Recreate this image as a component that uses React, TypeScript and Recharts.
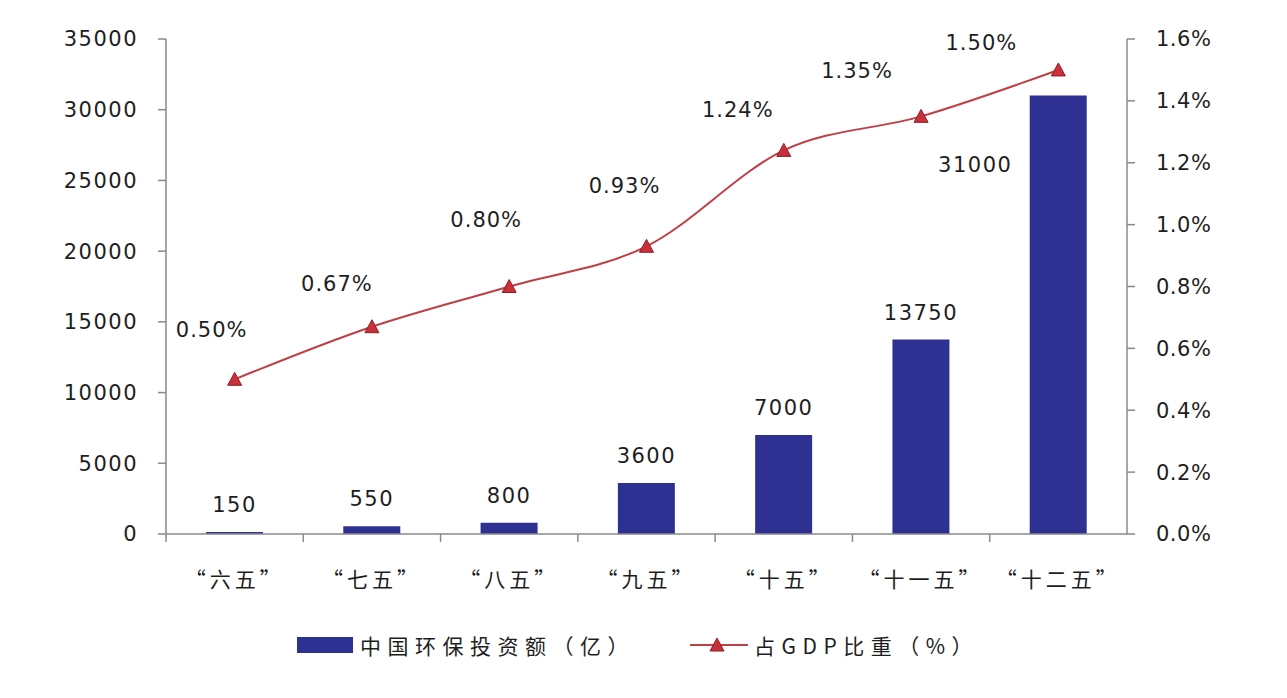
import React from "react";
import {
  ComposedChart,
  Bar,
  Line,
  XAxis,
  YAxis,
  LabelList,
} from "recharts";

// 五年计划期间
const periods = ["“六五”", "“七五”", "“八五”", "“九五”", "“十五”", "“十一五”", "“十二五”"];
// 中国环保投资额（亿）
const investment = [150, 550, 800, 3600, 7000, 13750, 31000];
// 占GDP比重（%）
const gdpShare = [0.5, 0.67, 0.8, 0.93, 1.24, 1.35, 1.5];

const leftTicks = [0, 5000, 10000, 15000, 20000, 25000, 30000, 35000];
const rightTicks = [0, 0.2, 0.4, 0.6, 0.8, 1.0, 1.2, 1.4, 1.6];

const data = periods.map((name, i) => ({
  name,
  investment: investment[i],
  share: gdpShare[i],
}));

// chart geometry
const W = 1271;
const H = 682;
const MARGIN = { top: 31, right: 52, bottom: 106, left: 0 };
const LEFT_AXIS_W = 158;
const RIGHT_AXIS_W = 100;
const PLOT_W = W - MARGIN.left - MARGIN.right - LEFT_AXIS_W - RIGHT_AXIS_W;
const BAND = PLOT_W / periods.length;

const BAR_COLOR = "#2E3192";
const LINE_COLOR = "#BE4046";
const AXIS_COLOR = "#8a8a8a";
const TEXT_COLOR = "#1e1e1e";
const FONT = "'DejaVu Sans', Verdana, sans-serif";
const CJK = "'Noto Sans CJK SC', sans-serif";

// hand-placed percent labels, offset from each point (like dragged Excel labels)
const shareLabelOffsets = [
  [-23, -49],
  [-35, -43],
  [-23, -67],
  [-22, -60],
  [-46, -40],
  [-64, -45],
  [-77, -27],
];

const Triangle = (props: any) => {
  const { cx, cy, index } = props;
  if (cx == null || cy == null) return null;
  return (
    <path
      key={`tri-${index}`}
      d={`M${cx},${cy - 7} L${cx + 7},${cy + 6} L${cx - 7},${cy + 6} Z`}
      fill="#C8303A"
      stroke="#8E1F25"
      strokeWidth={1}
    />
  );
};

const CategoryTick = (props: any) => {
  const { x, y, payload } = props;
  const bx = x - BAND / 2;
  return (
    <g>
      <line x1={bx} y1={y} x2={bx} y2={y + 8} stroke={AXIS_COLOR} strokeWidth={1.5} />
      <text
        x={x}
        y={y + 44}
        textAnchor="middle"
        dominantBaseline="central"
        fill={TEXT_COLOR}
        fontSize={21}
        fontFamily={CJK}
        letterSpacing={4}
      >
        {payload.value}
      </text>
    </g>
  );
};

const BarValueLabel = (props: any) => {
  const { x, y, width, value, index } = props;
  const last = index === investment.length - 1;
  // the last label sits beside its bar, as in the source
  const lx = last ? x + width / 2 - 83 : x + width / 2;
  const ly = last ? 157 : y - 27;
  return (
    <text
      x={lx}
      y={ly}
      textAnchor="middle"
      dominantBaseline="central"
      fill={TEXT_COLOR}
      fontSize={21}
      fontFamily={FONT}
      letterSpacing={1.5}
    >
      {value}
    </text>
  );
};

const ShareLabel = (props: any) => {
  const { x, y, value, index } = props;
  const [dx, dy] = shareLabelOffsets[index] || [0, -30];
  return (
    <text
      x={x + dx}
      y={y + dy}
      textAnchor="middle"
      dominantBaseline="central"
      fill={TEXT_COLOR}
      fontSize={21}
      fontFamily={FONT}
      letterSpacing={1}
    >
      {`${Number(value).toFixed(2)}%`}
    </text>
  );
};

export default function App() {
  return (
    <div style={{ position: "relative", width: W, height: H, background: "#fff" }}>
      <ComposedChart width={W} height={H} data={data} margin={MARGIN}>
        <XAxis
          dataKey="name"
          xAxisId="x"
          height={50}
          tickSize={0}
          tickMargin={0}
          interval={0}
          stroke={AXIS_COLOR}
          strokeWidth={1.5}
          tick={<CategoryTick />}
        />
        <YAxis
          yAxisId="left"
          orientation="left"
          width={LEFT_AXIS_W}
          domain={[0, 35000]}
          ticks={leftTicks}
          interval={0}
          tickSize={8}
          tickMargin={20}
          stroke={AXIS_COLOR}
          strokeWidth={1.5}
          tick={{ fill: TEXT_COLOR, fontSize: 21, fontFamily: FONT, letterSpacing: 1.5 }}
        />
        <YAxis
          yAxisId="right"
          orientation="right"
          width={RIGHT_AXIS_W}
          domain={[0, 1.6]}
          ticks={rightTicks}
          interval={0}
          tickSize={8}
          tickMargin={21}
          stroke={AXIS_COLOR}
          strokeWidth={1.5}
          tickFormatter={(v: number) => `${v.toFixed(1)}%`}
          tick={{ fill: TEXT_COLOR, fontSize: 21, fontFamily: FONT, letterSpacing: 0.5 }}
        />
        <Bar
          dataKey="investment"
          xAxisId="x"
          yAxisId="left"
          fill={BAR_COLOR}
          barSize={57}
          isAnimationActive={false}
        >
          <LabelList dataKey="investment" content={<BarValueLabel />} />
        </Bar>
        <Line
          dataKey="share"
          xAxisId="x"
          yAxisId="right"
          type="monotone"
          stroke={LINE_COLOR}
          strokeWidth={2}
          dot={Triangle}
          activeDot={false}
          isAnimationActive={false}
        >
          <LabelList dataKey="share" content={<ShareLabel />} />
        </Line>
      </ComposedChart>

      {/* legend */}
      <div
        style={{
          position: "absolute",
          top: 622,
          left: 289,
          display: "flex",
          alignItems: "center",
          fontFamily: CJK,
          fontSize: 21,
          color: TEXT_COLOR,
          letterSpacing: 6.5,
          whiteSpace: "nowrap",
        }}
      >
        <span style={{ width: 56, height: 16, background: BAR_COLOR, display: "inline-block" }} />
        <span style={{ marginLeft: 7 }}>中国环保投资额（亿）</span>
        <svg width={58} height={20} style={{ marginLeft: 55 }}>
          <line x1={0} y1={10} x2={58} y2={10} stroke={LINE_COLOR} strokeWidth={2} />
          <path d="M27,3 L34,16 L20,16 Z" fill="#C8303A" stroke="#8E1F25" strokeWidth={1} />
        </svg>
        <span style={{ marginLeft: 6 }}>占GDP比重（%）</span>
      </div>
    </div>
  );
}
